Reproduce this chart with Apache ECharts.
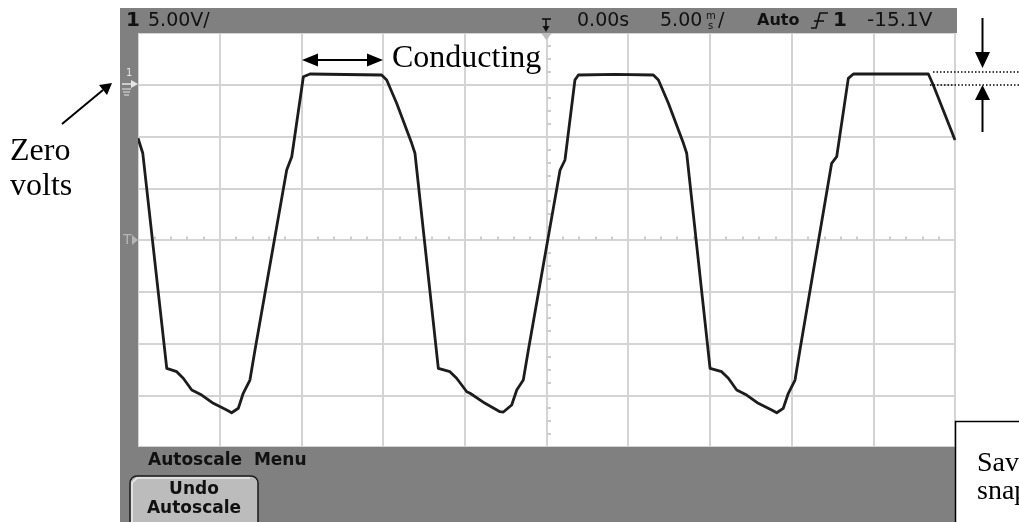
<!DOCTYPE html>
<html>
<head>
<meta charset="utf-8">
<script src="https://cdn.jsdelivr.net/npm/echarts@6/dist/echarts.min.js"></script>
<style>
html,body{margin:0;padding:0;background:#fff;}
#chart{width:1019px;height:522px;}
</style>
</head>
<body>
<div id="chart"></div>
<script>
// ---- data (time in ms, voltage in V) ----
const timeMs = [
  -25.00, -24.71, -23.24, -22.63, -22.23, -21.71, -21.10, -20.39, -19.57, -19.27,
  -18.86, -18.56, -18.15, -17.84, -15.90, -15.59, -15.50, -14.88, -14.47, -12.33,
  -10.09, -9.78, -9.17, -8.25, -8.05, -6.62, -5.91, -5.50, -4.88, -4.68,
  -3.76, -2.85, -2.64, -2.13, -1.82, -1.42, -1.11, 0.83, 1.13, 1.74,
  1.95, 4.20, 6.54, 6.85, 7.46, 8.38, 8.58, 10.01, 10.72, 11.13,
  11.64, 12.25, 12.96, 13.78, 14.09, 14.49, 14.80, 15.21, 15.51, 17.45,
  17.76, 18.47, 18.78, 21.02, 23.37, 23.67, 25.00
];
const volts = [
  -5.17, -6.59, -27.40, -27.72, -28.36, -29.49, -29.98, -30.78, -31.43, -31.69,
  -31.26, -29.81, -28.53, -25.63, -8.24, -6.95, -6.79, 0.78, 1.04, 0.99,
  0.94, 0.46, -1.79, -5.66, -6.62, -27.40, -27.72, -28.36, -29.66, -29.81,
  -30.78, -31.59, -31.62, -30.94, -29.49, -28.53, -25.63, -8.24, -7.27, 0.46,
  0.94, 1.00, 0.94, 0.46, -1.79, -5.66, -6.62, -27.40, -27.72, -28.36,
  -29.49, -29.98, -30.78, -31.43, -31.69, -31.26, -29.81, -28.53, -25.63, -7.59,
  -6.95, 0.62, 1.04, 1.04, 1.04, -0.02, -5.34
];
// scope settings / header labels
const timeRange = [-25, 25];   // 5.00 ms/div, 10 div
const voltRange = [-35, 5];    // 5.00 V/div, 8 div
const headerLeft = ['1', '5.00V/'];
const headerRight = ['0.00s', '5.00', 'm', 's', '/', 'Auto', '1', '-15.1V'];
const bottomLabels = ['Autoscale  Menu', 'Undo', 'Autoscale'];
const notes = ['Conducting', 'Zero', 'volts', 'Sav', 'snap'];

const seriesData = timeMs.map((t, i) => [t, volts[i]]);

const GRAY = '#808080';
const GRID = '#d4d4d4';
const TICK = '#cdcdcd';
const G = {left: 138, top: 33, width: 817, height: 414};

function txt(x, y, text, font, fill, align, z) {
  return {type: 'text', x: x, y: y, z: z || 60,
    style: {text: text, font: font, fill: fill || '#111', align: align || 'left', verticalAlign: 'middle'}};
}
function rect(x, y, w, h, fill) {
  return {type: 'rect', z: 50, shape: {x: x, y: y, width: w, height: h}, style: {fill: fill}};
}
function poly(points, stroke, lw, dash) {
  return {type: 'polyline', z: 60, shape: {points: points}, style: {stroke: stroke, lineWidth: lw, fill: null, lineDash: dash || null}};
}
function tri(points, fill) {
  return {type: 'polygon', z: 60, shape: {points: points}, style: {fill: fill}};
}

const hdrFont = '19px "DejaVu Sans"';
const hdrBold = 'bold 20px "DejaVu Sans"';

const graphic = [
  // scope frame
  rect(120, 8, 837, 25, GRAY),
  rect(120, 8, 18, 440, GRAY),
  rect(120, 447, 835, 75, GRAY),
  // header texts
  txt(126, 21, headerLeft[0], hdrBold, '#111'),
  txt(148, 21, headerLeft[1], hdrFont, '#111'),
  txt(577, 21, headerRight[0], hdrFont, '#111'),
  txt(660, 21, headerRight[1], hdrFont, '#111'),
  txt(706, 16, headerRight[2], '10px "DejaVu Sans"', '#111'),
  txt(708, 26, headerRight[3], '10px "DejaVu Sans"', '#111'),
  txt(718, 21, headerRight[4], hdrFont, '#111'),
  txt(757, 21, headerRight[5], 'bold 16px "DejaVu Sans"', '#111'),
  txt(833, 21, headerRight[6], hdrBold, '#111'),
  txt(867, 21, headerRight[7], '20px "DejaVu Sans"', '#111'),
  // trigger slope symbol
  poly([[811, 28], [816, 28], [820, 13], [828, 13]], '#111', 1.6),
  poly([[814, 21], [824, 21]], '#111', 1.6),
  // trigger position marker in header
  poly([[542, 19], [551, 19]], '#111', 1.6),
  poly([[546, 19], [546, 28]], '#111', 1.6),
  tri([[542.5, 26], [549.5, 26], [546, 32]], '#111'),
  // trigger position marker at top of graticule
  tri([[541, 33], [552, 33], [546.5, 40]], '#bdbdbd'),
  // channel 1 ground marker
  txt(126, 73, '1', '10px "DejaVu Sans"', '#e6e6e6'),
  poly([[122, 84], [133, 84]], '#e6e6e6', 1.5),
  tri([[131, 80], [138, 84], [131, 88]], '#e6e6e6'),
  poly([[122, 89], [131, 89]], '#e6e6e6', 1),
  poly([[123, 92], [130, 92]], '#e6e6e6', 1),
  poly([[124, 95], [129, 95]], '#e6e6e6', 1),
  // trigger level marker
  txt(123, 240, 'T', '14px "DejaVu Sans"', '#b5b5b5'),
  tri([[132, 235], [138, 240], [132, 245]], '#b5b5b5'),
  // bottom menu
  txt(148, 461, bottomLabels[0], 'bold 17px "DejaVu Sans"', '#111'),
  {type: 'rect', z: 55, shape: {x: 130, y: 476, width: 128, height: 56, r: 7},
    style: {fill: '#bcbcbc', stroke: '#1a1a1a', lineWidth: 1.5}},
  poly([[132, 528], [132, 483], [137, 478], [250, 478]], '#ececec', 1.5),
  txt(194, 490, bottomLabels[1], 'bold 17px "DejaVu Sans"', '#111', 'center'),
  txt(194, 509, bottomLabels[2], 'bold 17px "DejaVu Sans"', '#111', 'center'),
  // annotation box bottom right
  {type: 'rect', z: 55, shape: {x: 955.5, y: 421.5, width: 80, height: 120},
    style: {fill: '#fff', stroke: '#000', lineWidth: 1.5}},
  txt(977, 464, notes[3], '28px "Liberation Serif"', '#000'),
  txt(977, 492, notes[4], '28px "Liberation Serif"', '#000'),
  // "Conducting" annotation
  poly([[314, 60], [371, 60]], '#000', 2),
  tri([[302, 60], [318, 53.5], [318, 66.5]], '#000'),
  tri([[383, 60], [367, 53.5], [367, 66.5]], '#000'),
  txt(392, 59, notes[0], '32px "Liberation Serif"', '#000'),
  // "Zero volts" annotation
  txt(10, 152, notes[1], '32px "Liberation Serif"', '#000'),
  txt(10, 187, notes[2], '32px "Liberation Serif"', '#000'),
  poly([[62, 124], [103, 90]], '#000', 2),
  tri([[112, 83], [99, 85], [107, 95]], '#000'),
  // ripple annotation (right)
  poly([[982.5, 18], [982.5, 55]], '#000', 2),
  tri([[975, 52], [990, 52], [982.5, 68]], '#000'),
  poly([[982.5, 98], [982.5, 132]], '#000', 2),
  tri([[975, 100], [990, 100], [982.5, 85]], '#000'),
  poly([[933, 72], [1019, 72]], '#000', 1.5, [1.5, 2]),
  poly([[930, 85], [1019, 85]], '#000', 1.5, [1.5, 2])
];

// hidden helper axis
function hiddenAxis(gridIndex, range, interval) {
  return {type: 'value', gridIndex: gridIndex, min: range[0], max: range[1], interval: interval,
    axisLine: {show: false}, axisTick: {show: false}, axisLabel: {show: false}, splitLine: {show: false}};
}
// axis carrying only inward minor ticks (centre-line graduations)
function tickAxis(gridIndex, range, position, n, len) {
  return {type: 'value', gridIndex: gridIndex, min: range[0], max: range[1], interval: 5, position: position,
    axisLine: {show: false}, axisTick: {show: false, inside: true}, axisLabel: {show: false},
    minorTick: {show: true, splitNumber: n, length: len, lineStyle: {color: TICK, width: 2}},
    splitLine: {show: false}};
}
const halfH = G.height / 2, halfW = G.width / 2;

const chart = echarts.init(document.getElementById('chart'), null, {renderer: 'canvas'});
chart.setOption({
  animation: false,
  backgroundColor: '#ffffff',
  grid: [
    {left: G.left, top: G.top, width: G.width, height: G.height, show: false},
    {left: G.left, top: G.top, width: G.width, height: halfH, show: false},
    {left: G.left, top: G.top + halfH, width: G.width, height: halfH, show: false},
    {left: G.left, top: G.top, width: halfW, height: G.height, show: false},
    {left: G.left + halfW, top: G.top, width: halfW, height: G.height, show: false}
  ],
  xAxis: [
    {type: 'value', gridIndex: 0, min: timeRange[0], max: timeRange[1], interval: 5,
      axisLine: {show: false}, axisTick: {show: false}, axisLabel: {show: false},
      splitLine: {show: true, lineStyle: {color: GRID, width: 2}}},
    tickAxis(1, timeRange, 'bottom', 5, 3.5),
    tickAxis(2, timeRange, 'top', 5, 3.5),
    hiddenAxis(3, [0, 1], 1),
    hiddenAxis(4, [0, 1], 1)
  ],
  yAxis: [
    {type: 'value', gridIndex: 0, min: voltRange[0], max: voltRange[1], interval: 5,
      axisLine: {show: false}, axisTick: {show: false}, axisLabel: {show: false},
      splitLine: {show: true, lineStyle: {color: GRID, width: 2}}},
    hiddenAxis(1, [0, 1], 1),
    hiddenAxis(2, [0, 1], 1),
    tickAxis(3, voltRange, 'right', 4, 4.5),
    tickAxis(4, voltRange, 'left', 4, 4.5)
  ],
  graphic: graphic,
  series: [{
    type: 'line', xAxisIndex: 0, yAxisIndex: 0, data: seriesData,
    showSymbol: false, symbol: 'none', smooth: false, clip: true,
    lineStyle: {color: '#1c1c1c', width: 2.8, join: 'round'},
    z: 5
  }]
});
</script>
</body>
</html>
